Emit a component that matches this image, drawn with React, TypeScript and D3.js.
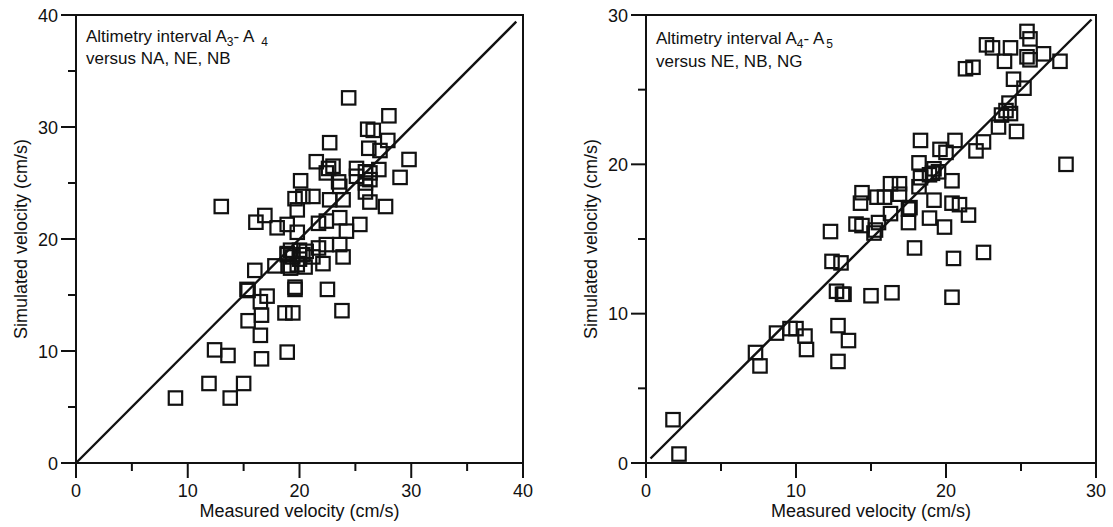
import React from "react";
import * as d3 from "d3";

// ---------- DATA ----------
const leftMeasured = [
  8.9, 11.9, 13.8, 15.0, 12.4, 13.6, 16.6, 18.9, 16.5, 15.4, 16.6, 18.7, 19.4, 23.8, 16.5, 17.1, 15.3, 15.4,
  19.6, 19.6, 22.5, 16.0, 17.8, 19.2, 19.8, 20.5, 22.1, 23.9, 18.9, 19.4, 20.3, 21.2, 18.9, 19.2, 20.0, 20.6,
  22.4, 23.6, 21.7, 18.0, 18.9, 19.8, 21.7, 22.4, 23.6, 24.2, 25.4, 13.0, 16.9, 16.1, 19.8, 19.6, 20.3, 21.2,
  22.7, 23.9, 25.9, 26.3, 27.7, 20.1, 22.4, 23.5, 23.6, 25.1, 25.9, 26.3, 29.0, 21.5, 22.6, 23.0, 25.1, 25.9,
  27.1, 26.3, 26.2, 27.2, 29.8, 22.7, 27.9, 26.1, 26.6, 28.0, 24.4, 20.0, 19.0,
];
const leftSimulated = [
  5.8, 7.1, 5.8, 7.1, 10.1, 9.6, 9.3, 9.9, 11.4, 12.7, 13.2, 13.4, 13.4, 13.6, 14.4, 14.9, 15.5, 15.4,
  15.5, 15.7, 15.5, 17.2, 17.6, 17.4, 17.7, 17.5, 17.8, 18.4, 18.6, 18.4, 18.6, 18.4, 18.7, 19.0, 19.0, 18.9,
  19.5, 19.5, 19.2, 21.0, 21.3, 20.6, 21.4, 21.6, 21.9, 20.7, 21.3, 22.9, 22.1, 21.5, 22.6, 23.6, 23.8, 23.8,
  23.5, 23.5, 24.2, 23.3, 22.9, 25.2, 25.9, 25.1, 24.7, 25.6, 25.0, 25.3, 25.5, 26.9, 26.3, 26.5, 26.3, 26.0,
  26.2, 25.9, 28.1, 27.9, 27.1, 28.6, 28.8, 29.8, 29.7, 31.0, 32.6, 18.2, 17.6,
];

const rightMeasured = [
  1.8, 2.2, 7.3, 7.6, 8.7, 9.6, 10.0, 10.6, 10.7, 12.8, 13.5, 12.8, 12.7, 13.1, 13.2, 15.0, 16.4, 20.4,
  12.4, 13.0, 17.9, 20.5, 22.5, 12.3, 14.0, 14.4, 15.2, 15.3, 15.5, 17.5, 18.9, 19.9, 16.3, 17.5, 14.3, 14.4,
  15.4, 15.9, 16.9, 16.3, 16.9, 18.2, 18.3, 18.9, 19.2, 19.5, 20.4, 19.2, 20.4, 20.9, 21.5, 17.6, 18.2, 18.3,
  19.6, 20.0, 20.6, 22.0, 22.5, 23.5, 24.7, 23.7, 24.0, 24.3, 24.2, 24.5, 25.2, 21.3, 21.8, 23.9, 27.6, 25.4,
  25.6, 26.5, 22.7, 23.1, 24.3, 25.4, 25.6, 28.0, 19.1,
];
const rightSimulated = [
  2.9, 0.6, 7.4, 6.5, 8.7, 9.0, 9.0, 8.5, 7.6, 9.2, 8.2, 6.8, 11.5, 11.3, 11.3, 11.2, 11.4, 11.1,
  13.5, 13.4, 14.4, 13.7, 14.1, 15.5, 16.0, 15.9, 15.4, 15.6, 16.1, 16.1, 16.4, 15.8, 16.7, 17.0, 17.4, 18.1,
  17.8, 17.8, 18.0, 18.7, 18.7, 18.5, 19.1, 19.3, 19.7, 19.5, 18.9, 17.6, 17.4, 17.3, 16.6, 17.1, 20.1, 21.6,
  21.0, 20.8, 21.6, 20.9, 21.5, 22.5, 22.2, 23.3, 23.6, 23.4, 24.1, 25.7, 25.1, 26.4, 26.5, 26.9, 26.9, 27.2,
  27.0, 27.4, 28.0, 27.8, 27.8, 28.9, 28.4, 20.0, 19.4,
];

const leftTicks = [0, 10, 20, 30, 40];
const leftMinorTicks = [5, 15, 25, 35];
const rightTicks = [0, 10, 20, 30];
const rightMinorTicks = [5, 15, 25];
const leftLine = [0, 39.4];
const rightLine = [0.3, 29.7];

const xTitle = "Measured velocity (cm/s)";
const yTitle = "Simulated velocity (cm/s)";

// ---------- STYLE ----------
const INK = "#111";
const FONT = "'Liberation Sans', Arial, Helvetica, sans-serif";

type PanelProps = {
  xs: number[];
  ys: number[];
  max: number;
  ticks: number[];
  minor: number[];
  lineSeg: number[];
  x0: number;
  x1: number;
  y0: number;
  y1: number;
  sub1: string;
  sub2: string;
  subGap: number;
  line2: string;
  textY: number;
  yTitleX: number;
};

function Panel(p: PanelProps) {
  const x = d3.scaleLinear().domain([0, p.max]).range([p.x0, p.x1]);
  const y = d3.scaleLinear().domain([0, p.max]).range([p.y0, p.y1]);
  const MAJ = 15;
  const MIN = 8;
  const lineGen = d3
    .line<number>()
    .x((d) => x(d))
    .y((d) => y(d));
  return (
    <g>
      {/* frame */}
      <rect
        x={x(0)}
        y={y(p.max)}
        width={x(p.max) - x(0)}
        height={y(0) - y(p.max)}
        fill="none"
        stroke={INK}
        strokeWidth={2}
      />
      {/* x ticks */}
      {p.ticks.map((t) => (
        <g key={"xt" + t}>
          <line x1={x(t)} x2={x(t)} y1={y(0)} y2={y(0) + MAJ} stroke={INK} strokeWidth={2} />
          <text
            x={x(t)}
            y={y(0) + 34}
            textAnchor="middle"
            fontSize={18}
            fontFamily={FONT}
            fill={INK}
          >
            {t}
          </text>
        </g>
      ))}
      {p.minor.map((t) => (
        <line key={"xm" + t} x1={x(t)} x2={x(t)} y1={y(0)} y2={y(0) + MIN} stroke={INK} strokeWidth={2} />
      ))}
      {/* y ticks */}
      {p.ticks.map((t) => (
        <g key={"yt" + t}>
          <line x1={x(0) - MAJ} x2={x(0)} y1={y(t)} y2={y(t)} stroke={INK} strokeWidth={2} />
          <text
            x={x(0) - MAJ - 3}
            y={y(t) + 6.5}
            textAnchor="end"
            fontSize={18}
            fontFamily={FONT}
            fill={INK}
          >
            {t}
          </text>
        </g>
      ))}
      {p.minor.map((t) => (
        <line key={"ym" + t} x1={x(0) - MIN} x2={x(0)} y1={y(t)} y2={y(t)} stroke={INK} strokeWidth={2} />
      ))}
      {/* 1:1 line */}
      <path d={lineGen(p.lineSeg) || ""} fill="none" stroke={INK} strokeWidth={2.4} />
      {/* markers */}
      {p.xs.map((v, i) => (
        <rect
          key={"m" + i}
          x={x(v) - 6.7}
          y={y(p.ys[i]) - 6.7}
          width={13.4}
          height={13.4}
          fill="none"
          stroke={INK}
          strokeWidth={2.2}
        />
      ))}
      {/* annotation */}
      <text x={x(0) + 10} y={p.textY} fontSize={17} fontFamily={FONT} fill={INK}>
        Altimetry interval A
        <tspan fontSize={12} dy={4}>
          {p.sub1}
        </tspan>
        <tspan dy={-4}>- A</tspan>
        <tspan fontSize={12} dy={4} dx={p.subGap}>
          {p.sub2}
        </tspan>
      </text>
      <text x={x(0) + 10} y={p.textY + 22.5} fontSize={17} fontFamily={FONT} fill={INK}>
        {p.line2}
      </text>
      {/* axis titles */}
      <text
        x={(x(0) + x(p.max)) / 2}
        y={517}
        textAnchor="middle"
        fontSize={18}
        fontFamily={FONT}
        fill={INK}
      >
        {xTitle}
      </text>
      <text
        transform={`translate(${p.yTitleX},${(y(0) + y(p.max)) / 2}) rotate(-90)`}
        textAnchor="middle"
        fontSize={18}
        fontFamily={FONT}
        fill={INK}
      >
        {yTitle}
      </text>
    </g>
  );
}

export default function App() {
  return (
    <svg
      width={1113}
      height={527}
      style={{ position: "absolute", left: 0, top: 0, background: "#fff" }}
    >
      <rect x={0} y={0} width={1113} height={527} fill="#fff" />
      <Panel
        xs={leftMeasured}
        ys={leftSimulated}
        max={40}
        ticks={leftTicks}
        minor={leftMinorTicks}
        lineSeg={leftLine}
        x0={76}
        x1={523}
        y0={463}
        y1={15}
        sub1="3"
        sub2="4"
        subGap={7}
        line2="versus NA, NE, NB"
        textY={41.5}
        yTitleX={27}
      />
      <Panel
        xs={rightMeasured}
        ys={rightSimulated}
        max={30}
        ticks={rightTicks}
        minor={rightMinorTicks}
        lineSeg={rightLine}
        x0={646}
        x1={1096}
        y0={463}
        y1={15}
        sub1="4"
        sub2="5"
        subGap={2}
        line2="versus NE, NB, NG"
        textY={44}
        yTitleX={597}
      />
    </svg>
  );
}
